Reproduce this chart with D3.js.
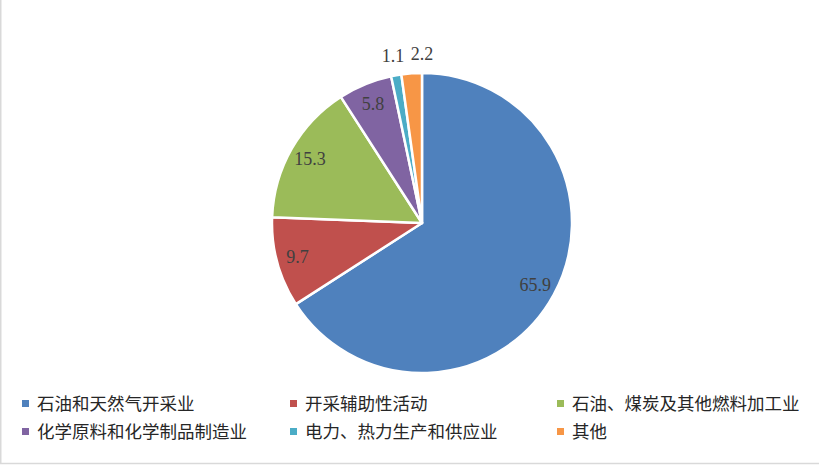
<!DOCTYPE html>
<html>
<head>
<meta charset="utf-8">
<script src="https://cdn.jsdelivr.net/npm/d3@7"></script>
<style>
  html, body { margin: 0; padding: 0; background: #fff; }
  svg { display: block; }
</style>
</head>
<body>
<svg></svg>
<script>
// категории и значения
const categories = ["石油和天然气开采业", "开采辅助性活动", "石油、煤炭及其他燃料加工业",
                    "化学原料和化学制品制造业", "电力、热力生产和供应业", "其他"];
const values = [65.9, 9.7, 15.3, 5.8, 1.1, 2.2];
const colors = ["#4F81BD", "#C0504D", "#9BBB59", "#8064A2", "#4BACC6", "#F79646"];

document.addEventListener("DOMContentLoaded", function() {
    const width = 819;
    const height = 466;
    const svg = d3.select("svg")
        .attr("width", width)
        .attr("height", height);

    // рамка (видна слева и снизу)
    svg.append("rect")
        .attr("x", 0.75).attr("y", -5)
        .attr("width", width + 10).attr("height", 468.5)
        .attr("fill", "none")
        .attr("stroke", "#d9d9d9")
        .attr("stroke-width", 1.5);

    drawPie(svg);
    drawLegend(svg);
});

// круговая диаграмма
function drawPie(svg) {
    const cx = 422, cy = 223, r = 150;
    const g = svg.append("g").attr("transform", `translate(${cx},${cy})`);

    const pie = d3.pie().sort(null).value(d => d);
    const arcs = pie(values);
    const arc = d3.arc().innerRadius(0).outerRadius(r);

    g.selectAll("path")
        .data(arcs)
        .join("path")
        .attr("d", arc)
        .attr("fill", (d, i) => colors[i])
        .attr("stroke", "#fff")
        .attr("stroke-width", 2.5)
        .attr("stroke-linejoin", "round");

    // подписи: маленькие сектора снаружи, остальные внутри
    const inner = d3.arc().innerRadius(129).outerRadius(129);
    const outer = d3.arc().innerRadius(170).outerRadius(170);
    const total = d3.sum(values);

    let pos = arcs.map(d => {
        const small = d.value / total < 0.03;
        const p = small ? outer.centroid(d) : inner.centroid(d);
        return {x: p[0], y: p[1], out: small};
    });

    // раздвигаем внешние подписи, если они пересекаются
    const outs = pos.filter(p => p.out).sort((a, b) => a.x - b.x);
    for (let k = 1; k < outs.length; k++) {
        const minGap = 29;
        if (outs[k].x - outs[k - 1].x < minGap) {
            const mid = (outs[k].x + outs[k - 1].x) / 2 + 6;
            outs[k - 1].x = mid - minGap / 2;
            outs[k].x = mid + minGap / 2;
        }
    }

    g.selectAll("text.lbl")
        .data(arcs)
        .join("text")
        .attr("class", "lbl")
        .attr("x", (d, i) => pos[i].x)
        .attr("y", (d, i) => pos[i].y)
        .attr("dy", "0.35em")
        .attr("text-anchor", "middle")
        .attr("font-family", "'Liberation Serif', 'Times New Roman', serif")
        .attr("font-size", 18)
        .attr("fill", "#404040")
        .text(d => d.value.toFixed(1));
}

// легенда
function drawLegend(svg) {
    const colX = [22, 290, 557];
    const rowY = [404, 432];

    const items = svg.append("g").selectAll("g")
        .data(categories)
        .join("g")
        .attr("transform", (d, i) => `translate(${colX[i % 3]},${rowY[Math.floor(i / 3)]})`);

    items.append("rect")
        .attr("x", 0).attr("y", -4)
        .attr("width", 7).attr("height", 7)
        .attr("fill", (d, i) => colors[i]);

    items.append("text")
        .attr("x", 15)
        .attr("y", 0)
        .attr("dy", "0.36em")
        .attr("font-family", "'Noto Sans CJK SC', sans-serif")
        .attr("font-size", 17.5)
        .attr("fill", "#262626")
        .text(d => d);
}
</script>
</body>
</html>
